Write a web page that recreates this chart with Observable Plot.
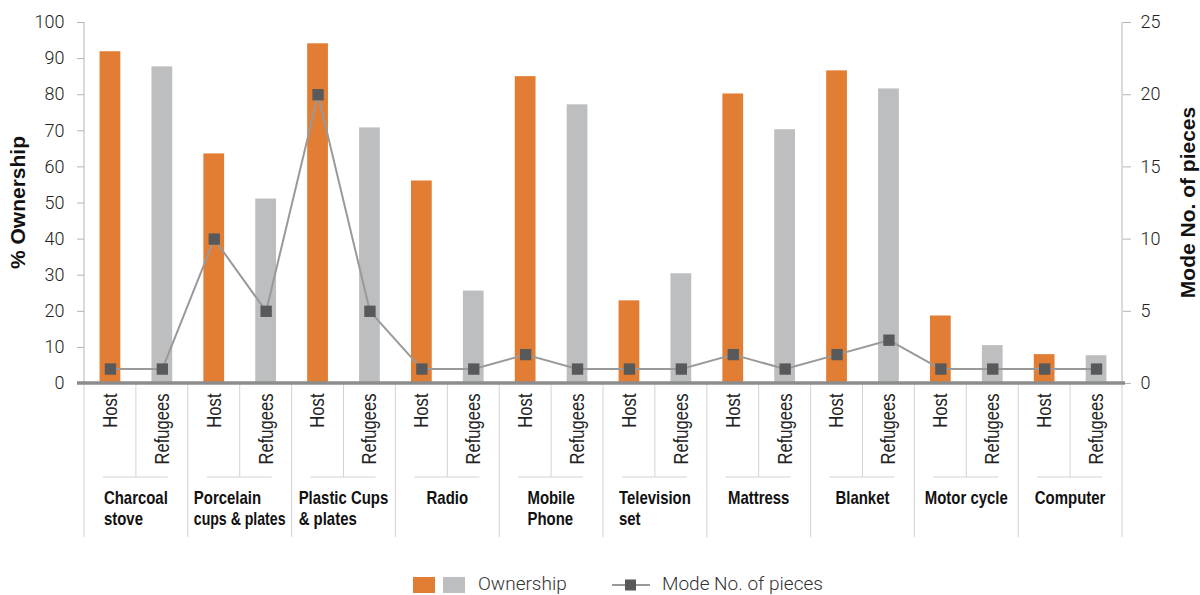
<!DOCTYPE html>
<html>
<head>
<meta charset="utf-8">
<script src="https://cdn.jsdelivr.net/npm/d3@7"></script>
<script src="https://cdn.jsdelivr.net/npm/@observablehq/plot@0.6"></script>
<style>
  body { margin: 0; background: #fff; }
  #chart { width: 1200px; height: 560px; }
  #legend { position: relative; width: 1200px; height: 35px; font-family: Roboto, "Liberation Sans", sans-serif; font-weight: 300; font-size: 19px; color: #333; }
  #legend .sw { position: absolute; top: 17px; width: 22px; height: 16px; }
  #legend .lbl { position: absolute; top: 12px; line-height: 24px; }
</style>
</head>
<body>
<div id="chart"></div>
<div id="legend">
  <div class="sw" style="left:413px;background:#E27E34"></div>
  <div class="sw" style="left:443px;background:#BDBEC0"></div>
  <div class="lbl" style="left:478px">Ownership</div>
  <svg style="position:absolute;left:610px;top:16px" width="42" height="18">
    <line x1="2" x2="40" y1="9" y2="9" stroke="#999" stroke-width="2"></line>
    <rect x="15" y="3.5" width="11" height="11" fill="#58595B"></rect>
  </svg>
  <div class="lbl" style="left:662px">Mode No. of pieces</div>
</div>
<script>
// Household items surveyed
const items = ["Charcoal stove", "Porcelain cups & plates", "Plastic Cups & plates", "Radio", "Mobile Phone",
               "Television set", "Mattress", "Blanket", "Motor cycle", "Computer"];
// Category labels as they wrap under the axis
const itemLabels = ["Charcoal\nstove", "Porcelain\ncups & plates", "Plastic Cups\n& plates", "Radio", "Mobile\nPhone",
                    "Television\nset", "Mattress", "Blanket", "Motor cycle", "Computer"];
const groups = ["Host", "Refugees"];

// % ownership
const hostOwnership    = [91.9, 63.6, 94.1, 56.1, 85.0, 22.9, 80.2, 86.6, 18.7, 8.0];
const refugeeOwnership = [87.7, 51.1, 70.8, 25.6, 77.2, 30.4, 70.3, 81.6, 10.5, 7.7];

// Mode number of pieces owned
const hostMode    = [1, 10, 20, 1, 2, 1, 2, 2, 1, 1];
const refugeeMode = [1, 5, 5, 1, 1, 1, 1, 3, 1, 1];

const ownershipTicks = [0, 10, 20, 30, 40, 50, 60, 70, 80, 90, 100];
const modeTicks = [0, 5, 10, 15, 20, 25];

const modeMax = 25, ownMax = 100, k = ownMax / modeMax; // right axis maps onto the left one

const rows = items.flatMap((item, i) => [
  {item, group: "Host", key: item + "|Host", own: hostOwnership[i], mode: hostMode[i]},
  {item, group: "Refugees", key: item + "|Refugees", own: refugeeOwnership[i], mode: refugeeMode[i]}
]);

const W = 1200, H = 560;
const mL = 84, mR = 78, mT = 22, mB = 177;
const tickFont = "Roboto, 'Liberation Sans', sans-serif";
const labelFont = "'Liberation Sans', Arial, sans-serif";
const squeeze = 0.83; // condensed look for the category text

const plot = Plot.plot({
  width: W, height: H,
  marginLeft: mL, marginRight: mR, marginTop: mT, marginBottom: mB,
  style: {fontFamily: tickFont, fontSize: "18px", fontWeight: 300, color: "#222", background: "#fff"},
  x: {type: "band", domain: rows.map(d => d.key), paddingInner: 0.6, paddingOuter: 0.3, round: false, axis: null},
  y: {domain: [0, ownMax], axis: null},
  color: {domain: groups, range: ["#E27E34", "#BDBEC0"]},
  marks: [
    Plot.barY(rows, {x: "key", y: "own", fill: "group"}),
    Plot.axisY({ticks: ownershipTicks, anchor: "left", tickSize: 7, tickPadding: 13, stroke: "#b5b5b5", fill: "#222", label: null, fontSize: 18}),
    Plot.axisY({ticks: modeTicks.map(v => v * k), tickFormat: v => v / k, anchor: "right", tickSize: 8, tickPadding: 10, stroke: "#b5b5b5", fill: "#222", label: null, fontSize: 18}),
    Plot.line(rows, {x: "key", y: d => d.mode * k, stroke: "#999", strokeWidth: 2}),
    Plot.dot(rows, {x: "key", y: d => d.mode * k, symbol: "square", r: 6.4, fill: "#58595B", stroke: "none"}),
    Plot.text(rows, {x: "key", text: "group", frameAnchor: "bottom", rotate: -90, textAnchor: "end", lineAnchor: "middle",
                     dy: 10, fontFamily: labelFont, fontSize: 20, fontWeight: 400, fill: "#222", className: "grp"})
  ]
});

document.getElementById("chart").appendChild(plot);

const svg = d3.select(plot);

// Condense the Host / Refugees labels
svg.selectAll(".grp text").each(function () {
  const len = this.getComputedTextLength();
  d3.select(this).attr("textLength", len * squeeze).attr("lengthAdjust", "spacingAndGlyphs");
});

// Frame lines, category dividers and category labels placed from the x band scale
const xs = plot.scale("x");
const gap = (xs.step - xs.bandwidth) / 2;
const y0 = H - mB;
const xLeft = mL, xRight = W - mR;
const maxLine = xs.step * 2 - 12; // keep each category label inside its cell
const g = svg.append("g");

g.append("line").attr("x1", xLeft).attr("x2", xLeft).attr("y1", mT).attr("y2", y0).attr("stroke", "#b5b5b5");
g.append("line").attr("x1", xRight).attr("x2", xRight).attr("y1", mT).attr("y2", y0).attr("stroke", "#b5b5b5");

items.forEach((item, i) => {
  const left = xs.apply(item + "|Host") - gap;
  const mid = xs.apply(item + "|Refugees") - gap;
  const right = mid + xs.step;
  g.append("line").attr("x1", left).attr("x2", left).attr("y1", y0).attr("y2", 537).attr("stroke", "#d3d3d3");
  if (i === items.length - 1)
    g.append("line").attr("x1", right).attr("x2", right).attr("y1", y0).attr("y2", 537).attr("stroke", "#d3d3d3");
  g.append("line").attr("x1", mid).attr("x2", mid).attr("y1", y0).attr("y2", 477).attr("stroke", "#d3d3d3");
  g.append("line").attr("x1", mid - 33).attr("x2", mid + 32).attr("y1", 477).attr("y2", 477).attr("stroke", "#d3d3d3");

  // One text per line, horizontally condensed; the block is centred, its lines left-aligned
  const lines = itemLabels[i].split("\n").map((line, j) => {
    const t = g.append("text").attr("text-anchor", "start")
      .attr("font-family", labelFont).attr("font-size", 18).attr("font-weight", 700).attr("fill", "#111")
      .attr("x", 0).attr("y", 504 + j * 21).text(line);
    const len = t.node().getComputedTextLength();
    const sx = Math.min(squeeze, maxLine / len);
    return {t, sx, w: len * sx};
  });
  const widest = d3.max(lines, d => d.w);
  lines.forEach(({t, sx}) => t.attr("transform", `translate(${mid - widest / 2},0) scale(${sx},1)`));
});

g.append("line").attr("x1", xLeft - 7).attr("x2", xRight + 3).attr("y1", y0).attr("y2", y0)
  .attr("stroke", "#8c8c8c").attr("stroke-width", 3.5);

// Axis titles
svg.append("text").attr("transform", `translate(25,${(mT + y0) / 2}) rotate(-90)`)
  .attr("text-anchor", "middle").attr("font-family", labelFont)
  .attr("font-size", 21).attr("font-weight", 700).attr("fill", "#111").text("% Ownership");
svg.append("text").attr("transform", `translate(1195,${(mT + y0) / 2}) rotate(-90)`)
  .attr("text-anchor", "middle").attr("font-family", labelFont)
  .attr("font-size", 21).attr("font-weight", 700).attr("fill", "#111").text("Mode No. of pieces");
</script>
</body>
</html>
